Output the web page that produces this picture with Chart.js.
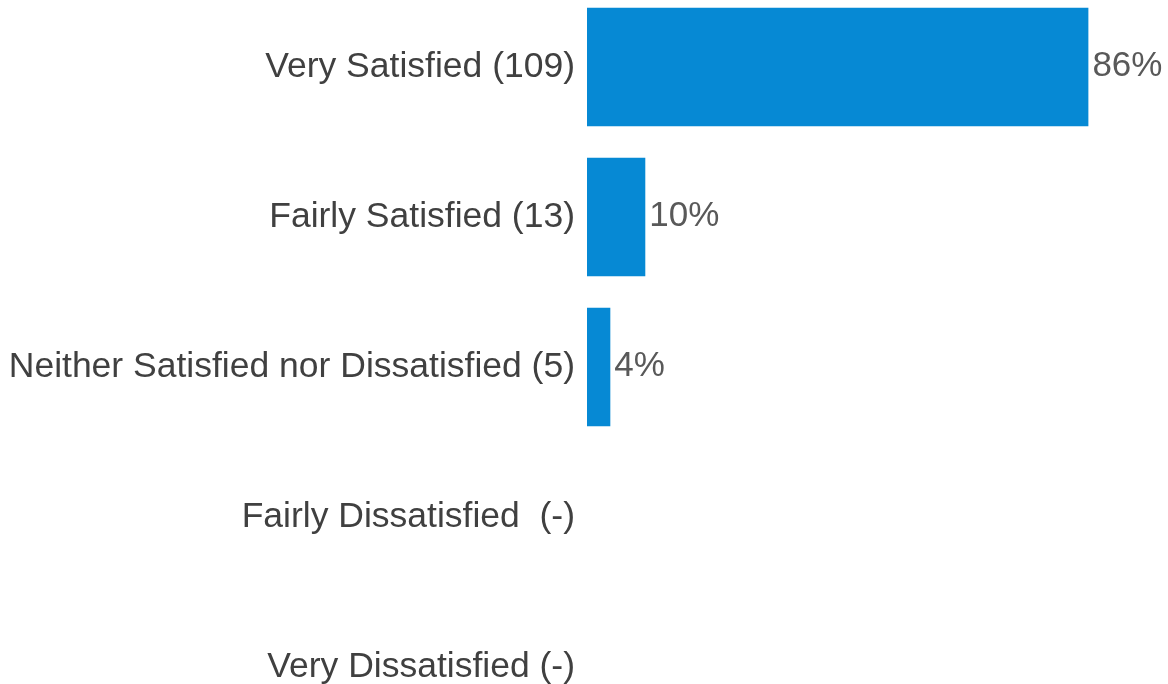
<!DOCTYPE html>
<html>
<head>
<meta charset="utf-8">
<script src="https://cdn.jsdelivr.net/npm/chart.js@4/dist/chart.umd.min.js"></script>
<style>
  html, body { margin: 0; padding: 0; background: #ffffff; overflow: hidden; width: 1168px; height: 684px; }
  #wrap { position: absolute; left: 0; top: -8px; width: 1170px; height: 750px; }
</style>
</head>
<body>
<div id="wrap"><canvas id="chart" width="1170" height="750"></canvas></div>
<script>
// Satisfaction survey: response categories (with respondent counts) and share of responses
const categories = [
  "Very Satisfied (109)",
  "Fairly Satisfied (13)",
  "Neither Satisfied nor Dissatisfied (5)",
  "Fairly Dissatisfied  (-)",
  "Very Dissatisfied (-)"
];
const percentages = [86, 10, 4, 0, 0];

const FONT = "'Liberation Sans', Arial, sans-serif";

// Writes the percentage just past the end of each non-empty bar
const valueLabels = {
  id: 'valueLabels',
  afterDatasetsDraw(chart) {
    const ctx = chart.ctx;
    const meta = chart.getDatasetMeta(0);
    const data = chart.data.datasets[0].data;
    ctx.save();
    ctx.font = '35px ' + FONT;
    ctx.fillStyle = '#595959';
    ctx.textAlign = 'left';
    ctx.textBaseline = 'middle';
    meta.data.forEach((bar, i) => {
      const v = data[i];
      if (!v) return;
      ctx.fillText(v + '%', bar.x + 4, bar.y - 1);
    });
    ctx.restore();
  }
};

new Chart(document.getElementById('chart'), {
  type: 'bar',
  data: {
    labels: categories,
    datasets: [{
      data: percentages,
      backgroundColor: '#0689d4',
      borderWidth: 0,
      categoryPercentage: 1.0,
      barPercentage: 0.79
    }]
  },
  options: {
    indexAxis: 'y',
    responsive: false,
    animation: false,
    layout: { padding: 0 },
    plugins: {
      legend: { display: false },
      tooltip: { enabled: false }
    },
    scales: {
      x: {
        display: false,
        min: 0,
        max: 100
      },
      y: {
        grid: { display: false, drawTicks: false },
        border: { display: false },
        ticks: {
          color: '#404040',
          padding: 12,
          font: { family: FONT, size: 35.5 }
        },
        afterFit(scale) {
          // fixed label column; categories fill the full height
          scale.width = 587;
          scale.paddingTop = 0;
          scale.paddingBottom = 0;
        }
      }
    }
  },
  plugins: [valueLabels]
});
</script>
</body>
</html>
